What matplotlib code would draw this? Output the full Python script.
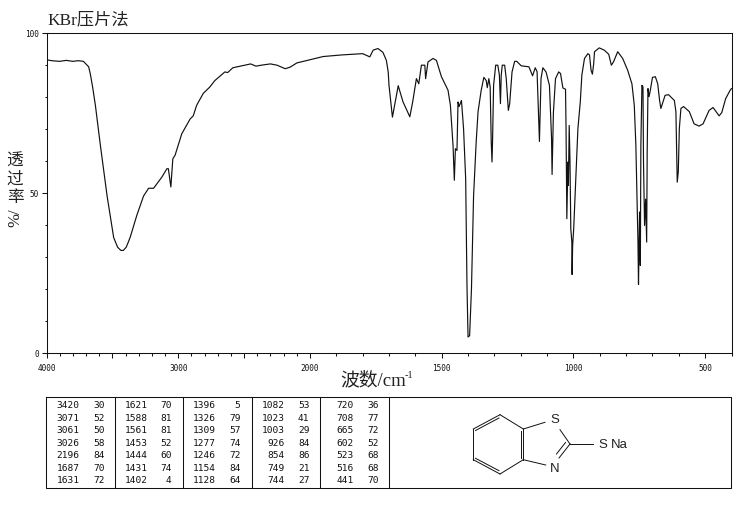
"""KBr pellet IR spectrum with peak table and structure."""
import numpy as np
import matplotlib
matplotlib.use("Agg")
import matplotlib.pyplot as plt

# --- Data ----------------------------------------------------------------
wavenumber = [
    4000, 3960, 3900, 3850, 3800, 3760, 3720, 3680, 3667, 3650, 3629, 3610, 3591, 3540,
    3490, 3460, 3435, 3417, 3395, 3380, 3364, 3314, 3263, 3225, 3187, 3124, 3086, 3075,
    3056, 3041, 3024, 2973, 2910, 2886, 2860, 2810, 2760, 2722, 2680, 2646, 2625, 2585,
    2494, 2450, 2410, 2370, 2300, 2250, 2188, 2150, 2100, 2000, 1950, 1880, 1800, 1773,
    1760, 1742, 1723, 1710, 1703, 1700, 1687, 1665, 1647, 1621, 1610, 1596,
    1587, 1577, 1564, 1561, 1552, 1533, 1520, 1501, 1476, 1467, 1457, 1452, 1448, 1442,
    1438, 1434, 1425, 1417, 1409, 1404, 1400, 1394, 1387, 1379, 1369, 1362, 1350, 1340,
    1331, 1327, 1321, 1316, 1312, 1309, 1307, 1303, 1295, 1287, 1281, 1277, 1274, 1270,
    1261, 1255, 1247, 1242, 1233, 1223, 1215, 1198, 1169, 1155, 1145, 1138, 1129, 1123,
    1116, 1104, 1091, 1083, 1081, 1076, 1068, 1056, 1049, 1040, 1030, 1028, 1025, 1021,
    1019, 1016, 1013, 1010, 1006, 1005, 1003, 999, 990, 983, 974, 968, 958, 945, 939,
    933, 928, 923, 920, 902, 883, 866, 856, 848, 832, 813, 794, 778, 769, 763, 758, 755,
    753, 749, 746, 744, 740, 736, 734, 730, 726, 722, 720, 717, 713, 708, 700, 689, 680,
    673, 668, 662, 652, 639, 617, 611, 606, 602, 598, 592, 582, 560, 542, 523, 508, 485,
    470, 447, 437, 422, 405, 400,
]
transmittance = [
    91.5, 91.2, 91, 91.3, 91, 91.2, 91, 89.3, 87, 83, 77.3, 71, 64.8, 49,
    36, 33, 32, 32, 33, 34.5, 36.2, 43, 49, 51.4, 51.4, 54.9, 57.5, 57.5,
    51.8, 60.6, 61.7, 68.4, 73, 74, 77.3, 81, 83, 85, 86.5, 87.7, 87.5, 89,
    89.8, 90.2, 89.5, 89.8, 90.2, 89.8, 88.7, 89.2, 90.5, 91.5, 92.5, 93, 93.4, 92.4,
    94.5, 95, 93.8, 91.3, 87.7, 83.5, 73.6, 83.4, 78.4, 73.7, 78.4, 85.6,
    84, 89.8, 89.8, 85.6, 90.8, 91.9, 91.3, 86.2, 82, 77.3, 64.8, 53.9, 63.75, 63.2,
    78.3, 76.9, 78.8, 70, 54.4, 21, 5, 5.4, 20, 49, 66, 75.3, 82, 86,
    85, 82.8, 85.6, 83, 66, 59.6, 66, 83.5, 89.8, 89.8, 86.7, 77.8, 86.7, 89.8,
    89.8, 85.6, 75.7, 77.8, 87.7, 91, 91, 89.6, 89.3, 86.5, 89, 87.8, 66, 85.6,
    89, 87.7, 83.5, 66.9, 55.7, 75, 85.6, 87.7, 87.2, 82.7, 82.3, 70, 41.9, 59.6,
    52.3, 71, 59.6, 38.75, 34.7, 24.5, 33.5, 38.75, 56.5, 70, 78.3, 86.7, 91.9, 93.4, 93,
    88.2, 87, 90.3, 94, 95.2, 94.5, 93.2, 89.8, 90.8, 94, 91.9, 88.2, 84, 77.3, 64.8, 46, 34.6,
    21.4, 44, 27.3, 64.8, 83.5, 83, 59.6, 39.8, 48, 34.6, 62.8, 82.5, 80, 82, 86, 86.2, 84,
    78.8, 76.3, 77.8, 80.4, 80.6, 78.8, 75.3, 53.3, 56.5, 70, 76.3, 76.9, 75.3, 71.5, 70.8, 71.5, 75.7,
    76.6, 74, 75, 79.4, 82, 82.5,
]

peak_wn = [
    [3420, 3071, 3061, 3026, 2196, 1687, 1631],
    [1621, 1588, 1561, 1453, 1444, 1431, 1402],
    [1396, 1326, 1309, 1277, 1246, 1154, 1128],
    [1082, 1023, 1003, 926, 854, 749, 744],
    [720, 708, 665, 602, 523, 516, 441],
]
peak_t = [
    [30, 52, 50, 58, 84, 70, 72],
    [70, 81, 81, 52, 60, 74, 4],
    [5, 79, 57, 74, 72, 84, 64],
    [53, 41, 29, 84, 86, 21, 27],
    [36, 77, 72, 52, 68, 68, 70],
]

x_major = [4000, 3500, 3000, 2500, 2000, 1500, 1000, 500]
x_major_labels = ["4000", "", "3000", "", "2000", "1500", "1000", "500"]
x_minor = [w for w in range(3900, 2000, -100)] + [w for w in range(1900, 399, -100)]
y_major = [0, 50, 100]
y_minor = [10, 20, 30, 40, 60, 70, 80, 90]

# table layout, in pixels of the figure
ROW_Y = [406, 418.5, 431, 443.3, 455.8, 468.5, 480.7]
COL_WN_X = [79.5, 147.5, 216, 284.5, 354]
COL_T_X = [104.5, 171.5, 240.5, 309.5, 378.5]
DIVIDERS = [115.3, 183.3, 252.3, 320.3, 389.3]

# structure drawing, in pixels of the figure
BONDS = [
    ((473.3, 430), (500, 415.7)), ((500, 415.7), (523.3, 430)),
    ((523.3, 430), (523.3, 460.7)), ((523.3, 460.7), (500, 475)),
    ((500, 475), (473.3, 460.7)), ((473.3, 460.7), (473.3, 430)),
    ((475.5, 431.5), (499, 419)), ((520.8, 432), (520.8, 458.7)),
    ((475.5, 459.3), (499, 471.7)),
    ((523.3, 430), (545, 423.3)), ((560, 430.7), (570, 445)),
    ((570, 445), (559, 459)), ((565.5, 443.5), (556.5, 455)),
    ((545.7, 466), (523.3, 460.7)), ((570, 445), (593.3, 445)),
]

DIGIT_FONT = "DejaVu Sans Mono"
LABEL_FONT = ["Liberation Serif", "Noto Sans CJK SC"]
W, H = 737, 510
INK = "#111111"


# 2000 and below is drawn at twice the scale of the range above it
def x_forward(w):
    w = np.asarray(w, dtype=float)
    return np.where(w < 2000, w * 2.0, w + 2000.0)


def x_inverse(p):
    p = np.asarray(p, dtype=float)
    return np.where(p < 4000, p / 2.0, p - 2000.0)


# --- Plot ----------------------------------------------------------------
fig = plt.figure(figsize=(W / 100, H / 100), dpi=100, facecolor="white")
ax = fig.add_axes([46.5 / W, 1 - 354 / H, 685 / W, 320.5 / H])
ax.set_xscale("function", functions=(x_forward, x_inverse))
ax.plot(wavenumber, transmittance, color=INK, lw=0.85)
ax.set_xlim(4000, 400)
ax.set_ylim(0, 100)

ax.set_xticks(x_major, x_major_labels, fontfamily=DIGIT_FONT, fontsize=5.6)
ax.set_xticks(x_minor, minor=True)
ax.set_yticks(y_major, [str(v) for v in y_major], fontfamily=DIGIT_FONT, fontsize=5.6)
ax.set_yticks(y_minor, minor=True)
ax.tick_params(axis="both", which="major", length=3.6, width=0.75, color=INK, labelcolor=INK)
ax.tick_params(axis="both", which="minor", length=1.8, width=0.75, color=INK)
ax.tick_params(axis="x", which="major", pad=3.5)
ax.tick_params(axis="y", which="major", pad=2)
for spine in ax.spines.values():
    spine.set_linewidth(0.75)
    spine.set_color(INK)

# overlay in figure pixels for labels, table and structure
ov = fig.add_axes([0, 0, 1, 1], facecolor="none")
ov.set_xlim(0, W)
ov.set_ylim(H, 0)
ov.axis("off")

ov.text(47, 20, "KBr压片法", family=LABEL_FONT, fontsize=12.4, color="#222222", ha="left", va="center")
ov.text(340, 380, "波数/cm", family=LABEL_FONT, fontsize=13.5, color="#222222", ha="left", va="center")
ov.text(405, 376, "-1", family=LABEL_FONT, fontsize=7.5, color="#222222", ha="left", va="center")
for ch, y in zip("透过率", [162, 180, 198]):
    ov.text(15, y, ch, family=LABEL_FONT, fontsize=12, color="#222222", ha="center", va="center")
ov.text(15, 218, "%/", family=LABEL_FONT, fontsize=12, color="#222222", ha="center", va="center",
        rotation=90)

# table frame
ov.plot([46.5, 731.5, 731.5, 46.5, 46.5], [397.5, 397.5, 489, 489, 397.5], color=INK, lw=0.75)
for x in DIVIDERS:
    ov.plot([x, x], [397.5, 489], color=INK, lw=0.75)

for c in range(len(peak_wn)):
    for r, y in enumerate(ROW_Y):
        ov.text(COL_WN_X[c], y, str(peak_wn[c][r]), family=DIGIT_FONT, fontsize=6.8, color=INK,
                ha="right", va="center")
        ov.text(COL_T_X[c], y, str(peak_t[c][r]), family=DIGIT_FONT, fontsize=6.8, color=INK,
                ha="right", va="center")

for (x0, y0), (x1, y1) in BONDS:
    ov.plot([x0, x1], [y0, y1], color=INK, lw=0.7)
ov.text(555, 420, "S", family="Liberation Sans", fontsize=9.5, color="#222222", ha="center", va="center")
ov.text(555, 469, "N", family="Liberation Sans", fontsize=9.5, color="#222222", ha="center", va="center")
ov.text(598.5, 445, "S", family="Liberation Sans", fontsize=9.5, color="#222222", ha="left", va="center")
ov.text(611, 445, "Na", family="Liberation Sans", fontsize=9.5, color="#222222", ha="left", va="center")

fig.savefig("out.png", dpi=100, facecolor="white")
